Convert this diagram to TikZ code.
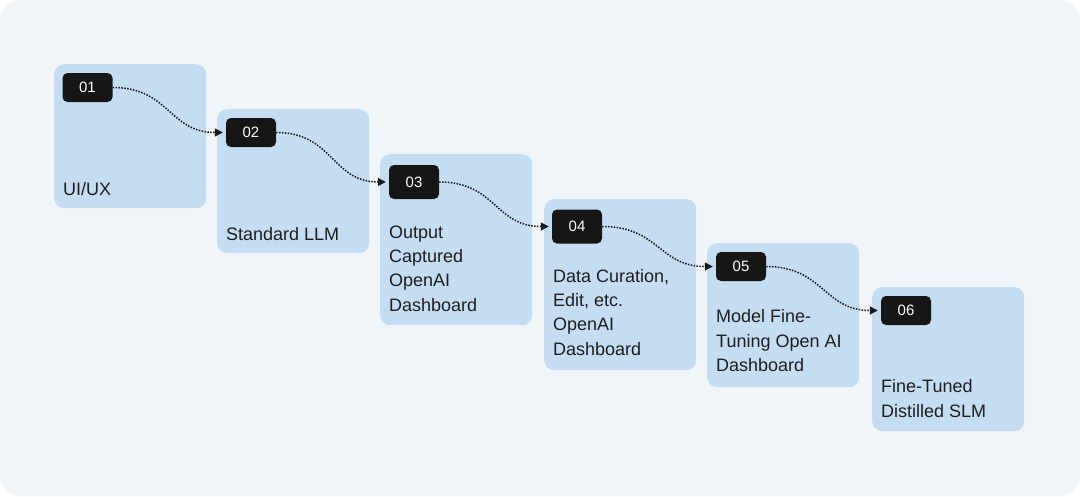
\documentclass[tikz,border=0pt]{standalone}
\usepackage{fontspec}
\setmainfont{Liberation Sans}
\usetikzlibrary{arrows.meta}
\definecolor{bgc}{HTML}{F0F5FA}
\definecolor{boxc}{HTML}{C5DDF2}
\definecolor{badgec}{HTML}{161616}
\definecolor{txtc}{HTML}{1E1E1E}
\tikzset{
  box/.style={fill=boxc, rounded corners=10pt, anchor=north west, minimum width=152pt, inner sep=0pt},
  badge/.style={fill=badgec, rounded corners=5pt, minimum width=50pt, inner sep=0pt, text=white, font=\fontsize{15}{17}\selectfont},
  lbl/.style={anchor=base west, inner sep=0pt, align=left, text=txtc, font=\fontsize{18}{24.3}\selectfont},
  conn/.style={dash pattern=on 1.5pt off 1.4pt, line width=1.5pt, black!90, shorten >=3pt, -{Triangle[length=8pt,width=8pt]}},
}
\begin{document}
\begin{tikzpicture}[x=1pt,y=-1pt]
\useasboundingbox (0,0) rectangle (1080,496);
\fill[white] (0,0) rectangle (1080,496);
\fill[bgc, rounded corners=20pt] (0,0) rectangle (1080,496);
% boxes
\node[box, minimum height=144pt] (b1) at (54,64) {};
\node[box, minimum height=144pt] (b2) at (217,109) {};
\node[box, minimum height=171pt] (b3) at (380,154) {};
\node[box, minimum height=171pt] (b4) at (544,199) {};
\node[box, minimum height=144pt] (b5) at (707,243) {};
\node[box, minimum height=144pt] (b6) at (872,287) {};
% badges
\node[badge, minimum height=29pt] (n1) at (87.5,87.5) {01};
\node[badge, minimum height=29pt] (n2) at (251,132.5) {02};
\node[badge, minimum height=34pt] (n3) at (414,182) {03};
\node[badge, minimum height=34pt] (n4) at (577,226.5) {04};
\node[badge, minimum height=29pt] (n5) at (741,266.5) {05};
\node[badge, minimum height=29pt] (n6) at (906,310.5) {06};
% labels (anchored at the baseline of the last line)
\node[lbl] (t1) at (63,195) {UI/UX};
\node[lbl] (t2) at (226,240) {Standard LLM};
\node[lbl] (t3) at (389,311) {Output\\Captured\\OpenAI\\Dashboard};
\node[lbl] (t4) at (553,355) {Data Curation,\\Edit, etc.\\OpenAI\\Dashboard};
\node[lbl] (t5) at (716,371.5) {Model Fine-\\Tuning Open AI\\Dashboard};
\node[lbl] (t6) at (881,417) {Fine-Tuned\\Distilled SLM};
% connectors
\draw[conn] (n1.east) .. controls +(57,0) and +(-57,0) .. (n2.west);
\draw[conn] (n2.east) .. controls +(57,0) and +(-57,0) .. (n3.west);
\draw[conn] (n3.east) .. controls +(57,0) and +(-57,0) .. (n4.west);
\draw[conn] (n4.east) .. controls +(57,0) and +(-57,0) .. (n5.west);
\draw[conn] (n5.east) .. controls +(57,0) and +(-57,0) .. (n6.west);
\end{tikzpicture}
\end{document}
